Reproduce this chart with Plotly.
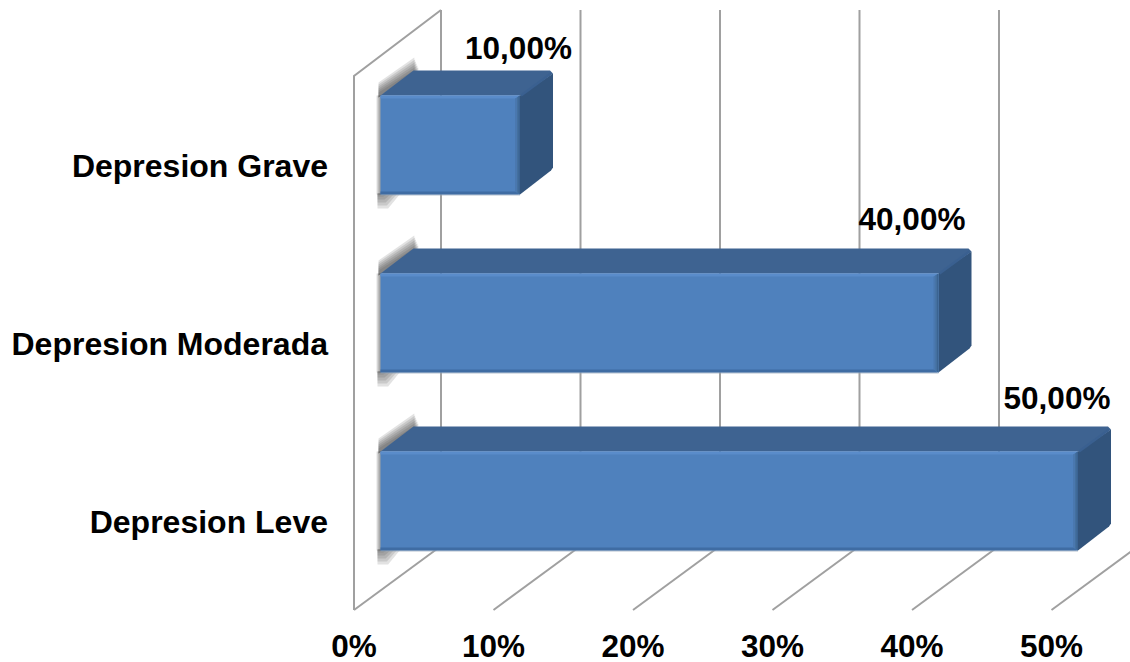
import plotly.graph_objects as go

# Survey results: share of respondents per depression severity
categories = ["Depresion Leve", "Depresion Moderada", "Depresion Grave"]
values = [50, 40, 10]
value_labels = ["50,00%", "40,00%", "10,00%"]
x_ticks = [0, 10, 20, 30, 40, 50]
x_tick_labels = ["0%", "10%", "20%", "30%", "40%", "50%"]

# Oblique projection settings (pixels per unit of each axis)
WIDTH, HEIGHT = 1130, 662
PLOT_H = 624
PX_PER_PCT = 13.95
PX_PER_SLOT = 178.0
ZERO_X = 354.0
SLOT0_Y = 522.0
FLOOR_Y = 610.0
BAR_X0 = 26.5
BAR_LIFT = 21.0
BAR_HALF = 49.5
BAR_DX, BAR_DY = 33.0, 25.0
WALL_DX, WALL_DY = 87.0, 64.0

FONT = "Liberation Sans, Arial, sans-serif"
TEXT_SIZE = 31.5
GRID = "#a0a0a0"
FRONT = "#4f81bd"
TOP = "#3e6391"
SIDE = "#32547c"
SHADOW = "rgba(60,60,60,0.15)"


def pt(v, slot, dx=0.0, dy=0.0):
    """Point on a bar: value v, category slot, with a pixel offset."""
    return (v + (BAR_X0 + dx) / PX_PER_PCT, slot + (BAR_LIFT - dy) / PX_PER_SLOT)


def wall(v, px_dx, px_y):
    """Point on the chart frame: value v, pixel depth shift, pixel height."""
    return (v + px_dx / PX_PER_PCT, (SLOT0_Y - px_y) / PX_PER_SLOT)


fig = go.Figure()


def polygon(points, color):
    fig.add_trace(go.Scatter(
        x=[p[0] for p in points] + [points[0][0]],
        y=[p[1] for p in points] + [points[0][1]],
        mode="lines", fill="toself", fillcolor=color,
        line=dict(width=0), hoverinfo="skip", showlegend=False,
    ))


def line(points, color, width):
    fig.add_trace(go.Scatter(
        x=[p[0] for p in points], y=[p[1] for p in points],
        mode="lines", line=dict(color=color, width=width, simplify=False),
        hoverinfo="skip", showlegend=False,
    ))


# Back wall grid lines and floor lines
for t in x_ticks[:-1]:
    line([wall(t, WALL_DX, 10), wall(t, WALL_DX, FLOOR_Y - WALL_DY)], GRID, 2)
for t in x_ticks:
    line([wall(t, 0, FLOOR_Y), wall(t, WALL_DX, FLOOR_Y - WALL_DY)], GRID, 2)

# Left side wall outline
line([wall(0, WALL_DX, 10), wall(0, 0, 76), wall(0, 0, FLOOR_Y)], GRID, 2)

# Bars, from the bottom category upwards
for slot, v in enumerate(values):
    h = BAR_HALF
    # soft shadow falling on the side wall, built from nested translucent shapes
    for e in (13, 11, 9, 7, 5, 3):
        polygon([pt(0, slot, -2, -h + 2), pt(0, slot, -2, -h - e),
                 pt(0, slot, BAR_DX + 6 - e * 0.4, -h - BAR_DY - e),
                 pt(0, slot, BAR_DX + 6 - e * 0.4, -h - BAR_DY)], SHADOW)
    for e in (4, 3, 2, 1):
        polygon([pt(0, slot, -e, -h), pt(0, slot, 1, -h), pt(0, slot, 1, h), pt(0, slot, -e, h)], SHADOW)
    for e in (14, 11, 8, 5, 2):
        polygon([pt(0, slot, -3, h - 1), pt(0, slot, -3, h + e), pt(0, slot, 2 + e * 0.4, h + e),
                 pt(0, slot, 6 + e, h - 1)], SHADOW)
    # top and side faces
    polygon([pt(0, slot, 0, -h), pt(0, slot, BAR_DX, -h - BAR_DY),
             pt(v, slot, BAR_DX - 3, -h - BAR_DY), pt(v, slot, BAR_DX, -h - BAR_DY + 3),
             pt(v, slot, 0, -h)], TOP)
    polygon([pt(v, slot, 0, -h), pt(v, slot, BAR_DX, -h - BAR_DY + 3),
             pt(v, slot, BAR_DX, h - BAR_DY - 2), pt(v, slot, BAR_DX - 2, h - BAR_DY + 1),
             pt(v, slot, 0, h)], SIDE)
    # lit ridge between top and side
    line([pt(v, slot, 1, -h), pt(v, slot, BAR_DX - 2, -h - BAR_DY + 3)], "#3a6090", 2.5)
    # front face with bevelled edges
    polygon([pt(0, slot, 0, -h), pt(v, slot, 0, -h), pt(v, slot, 0, h), pt(0, slot, 0, h)], FRONT)
    polygon([pt(0, slot, 0, -h), pt(v, slot, -1, -h), pt(v, slot, -3, -h + 3), pt(0, slot, 0, -h + 3)], "#5a8cca")
    polygon([pt(0, slot, 0, h - 3), pt(v, slot, -4, h - 3), pt(v, slot, -1, h), pt(0, slot, 0, h)], "#3f6ca3")
    polygon([pt(v, slot, -5, -h + 3), pt(v, slot, 0, -h), pt(v, slot, 0, h), pt(v, slot, -5, h - 3)], "#4a78af")
    polygon([pt(v, slot, -3, -h + 2), pt(v, slot, 0, -h), pt(v, slot, 0, h), pt(v, slot, -3, h - 2)], "#44709f")
    polygon([pt(v, slot, -1.5, -h + 1), pt(v, slot, 0, -h), pt(v, slot, 0, h), pt(v, slot, -1.5, h - 1)], "#3b6493")
    line([pt(0, slot, 0, h + 0.5), pt(v, slot, 0, h + 0.5)], "rgba(150,165,185,0.7)", 1)

# Value labels above the bars
label_nudges = [(-21, -99.5), (-26.5, -101), (-1.5, -93.5)]
for slot, (v, text) in enumerate(zip(values, value_labels)):
    lx, ly = pt(v, slot, *label_nudges[slot])
    fig.add_trace(go.Scatter(
        x=[lx], y=[ly], mode="text", text=[text], textposition="middle center",
        textfont=dict(family=FONT, size=TEXT_SIZE, color="#000000", weight="bold"),
        hoverinfo="skip", showlegend=False, cliponaxis=False,
    ))

fig.update_layout(
    width=WIDTH, height=HEIGHT, autosize=False,
    margin=dict(l=0, r=0, t=0, b=HEIGHT - PLOT_H),
    paper_bgcolor="#ffffff", plot_bgcolor="#ffffff", showlegend=False,
    xaxis=dict(
        range=[-ZERO_X / PX_PER_PCT, (WIDTH - ZERO_X) / PX_PER_PCT],
        tickmode="array", tickvals=x_ticks, ticktext=x_tick_labels,
        showgrid=False, zeroline=False, showline=False, ticks="",
        tickfont=dict(family=FONT, size=TEXT_SIZE, color="#000000", weight="bold"),
        automargin=False,
    ),
    yaxis=dict(
        range=[(SLOT0_Y - PLOT_H) / PX_PER_SLOT, SLOT0_Y / PX_PER_SLOT],
        tickmode="array", tickvals=list(range(len(categories))), ticktext=categories,
        anchor="free", position=328 / WIDTH, side="left",
        showgrid=False, zeroline=False, showline=False, ticks="",
        tickfont=dict(family=FONT, size=32, color="#000000", weight="bold"),
        automargin=False,
    ),
)

fig.write_html("out.html")
